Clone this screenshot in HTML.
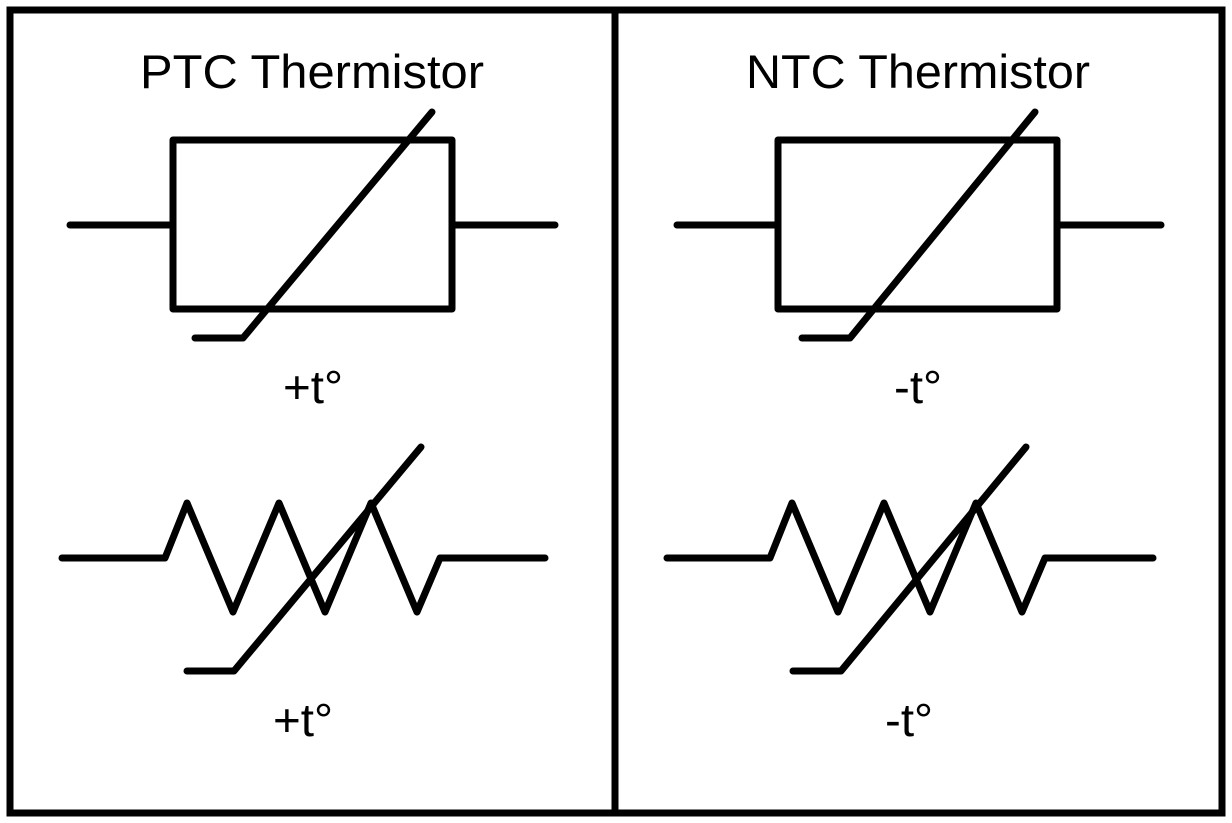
<!DOCTYPE html>
<html><head><meta charset="utf-8"><style>
html,body{margin:0;padding:0;background:#fff;}
svg{display:block;}
text{font-family:"Liberation Sans",Arial,sans-serif;fill:#000;}
</style></head><body>
<svg width="1232" height="823" viewBox="0 0 1232 823" xmlns="http://www.w3.org/2000/svg">
<rect x="0" y="0" width="1232" height="823" fill="#fff"/>
<g fill="none" stroke="#000" stroke-width="7" stroke-linecap="round" stroke-linejoin="round">
<rect x="10" y="10" width="1212" height="803" stroke-linecap="butt" stroke-linejoin="miter"/>
<line x1="615" y1="10" x2="615" y2="813" stroke-linecap="butt"/>
<rect x="173" y="140" width="279" height="169"/>
<line x1="70" y1="225" x2="173" y2="225"/>
<line x1="452" y1="225" x2="555" y2="225"/>
<polyline points="432,112 243,338 195,338"/>
<polyline points="62,558 165,558 187,503 233,612 279,503 325,612 371,503 417,612 440,558 545,558"/>
<polyline points="421,447 234,671 187,671"/>
<rect x="778" y="140" width="279" height="169"/>
<line x1="677" y1="225" x2="778" y2="225"/>
<line x1="1057" y1="225" x2="1161" y2="225"/>
<polyline points="1035,112 850,338 802,338"/>
<polyline points="667,558 770,558 792,503 838,612 884,503 930,612 976,503 1022,612 1045,558 1153,558"/>
<polyline points="1026,447 841,671 793,671"/>
</g>
<text x="140" y="88" font-size="47" textLength="344" lengthAdjust="spacingAndGlyphs">PTC Thermistor</text>
<text x="746" y="88" font-size="47" textLength="344" lengthAdjust="spacingAndGlyphs">NTC Thermistor</text>
<text x="283" y="403" font-size="46" textLength="60" lengthAdjust="spacingAndGlyphs">+t°</text>
<text x="894" y="403" font-size="46" textLength="48" lengthAdjust="spacingAndGlyphs">-t°</text>
<text x="273" y="736" font-size="46" textLength="60" lengthAdjust="spacingAndGlyphs">+t°</text>
<text x="885" y="736" font-size="46" textLength="48" lengthAdjust="spacingAndGlyphs">-t°</text>
</svg>
</body></html>
